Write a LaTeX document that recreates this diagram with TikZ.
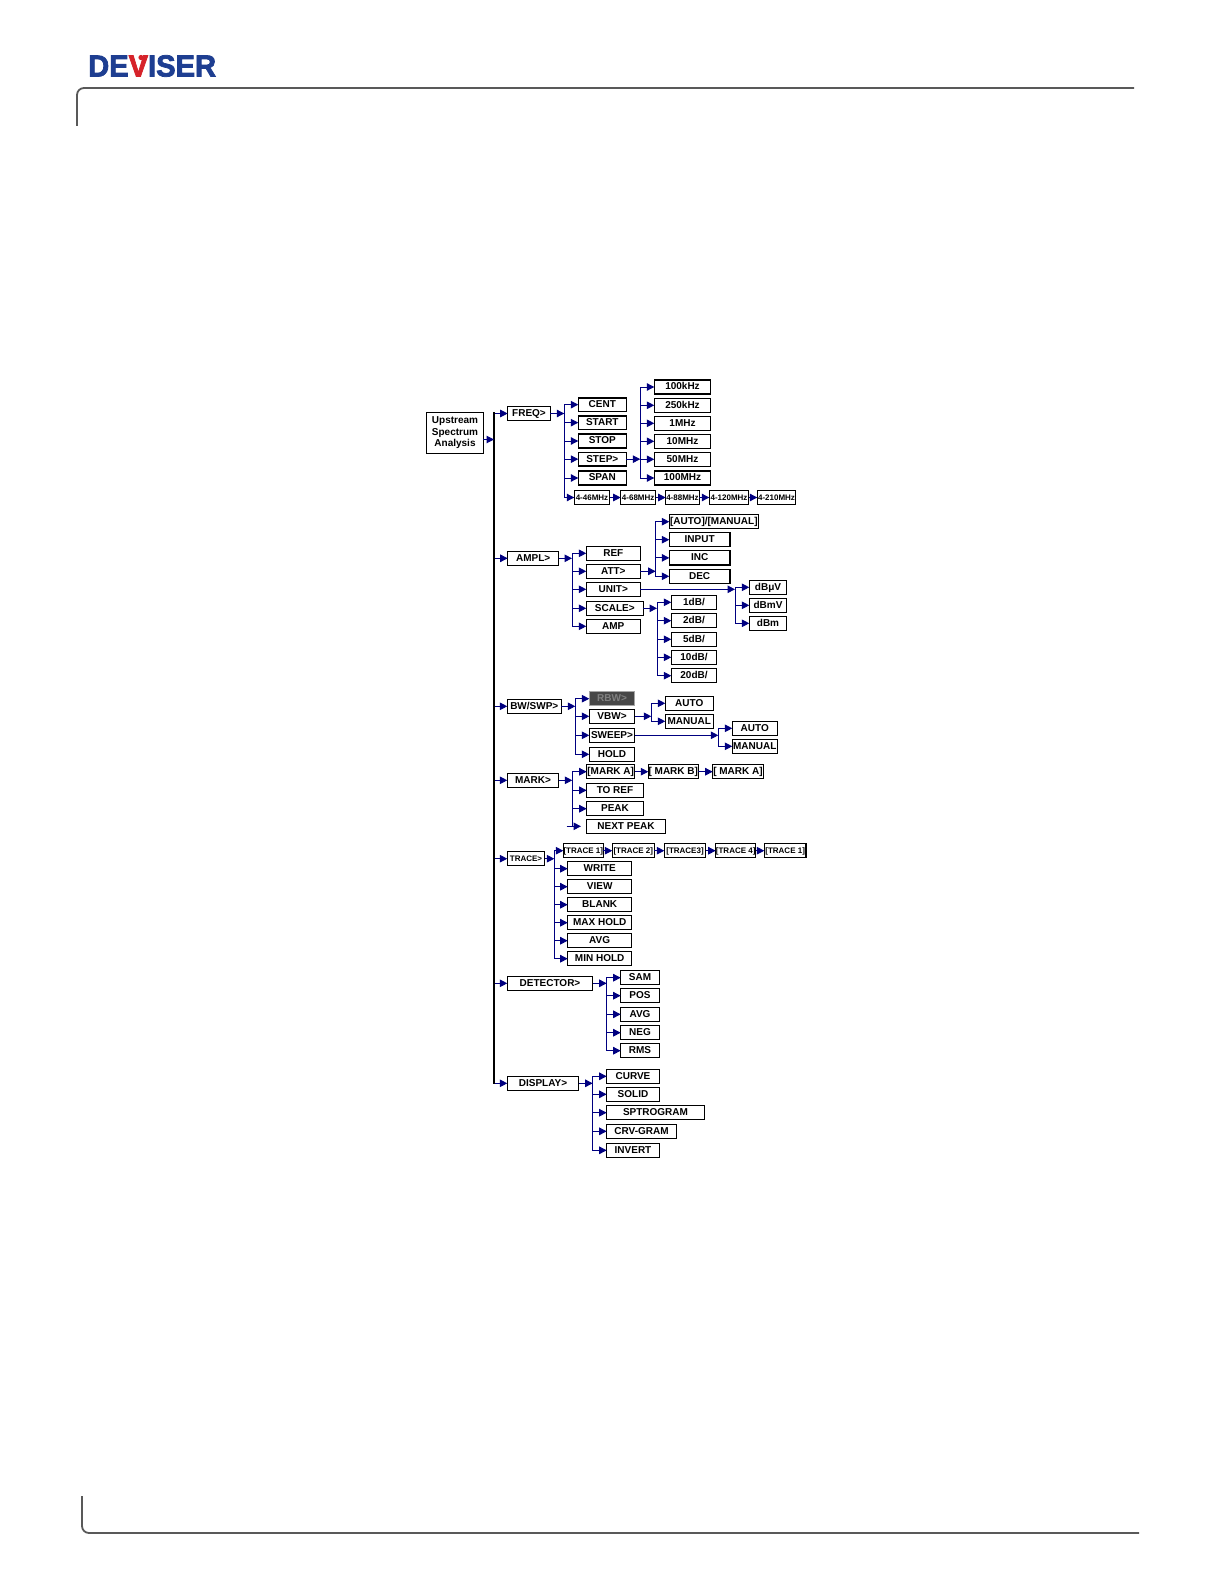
\documentclass[tikz,border=0pt]{standalone}
\usepackage{fontspec}
\setmainfont{Liberation Sans}
\newfontfamily\logofont[FakeBold=2.5]{Liberation Sans}
\usetikzlibrary{arrows.meta}
\definecolor{flownavy}{RGB}{0,0,128}
\definecolor{logoblue}{RGB}{30,62,145}
\definecolor{logored}{RGB}{214,35,42}
\tikzset{
  bx/.style={draw=black,line width=1.3pt,inner sep=0pt,outer sep=0pt,text height=5.8pt,text depth=0pt,
    font=\fontsize{10}{12}\selectfont\bfseries},
  small/.style={font=\fontsize{8}{10}\selectfont\bfseries},
  flow/.style={draw=flownavy,line width=1pt,-{Triangle[length=7.5pt,width=7.5pt]}},
  busline/.style={draw=flownavy,line width=1pt,line cap=rect},
  mainbus/.style={draw=black,line width=2.2pt,line cap=rect},
  frameline/.style={draw=black!65,line width=1.8pt,rounded corners=7pt},
}
\newcommand{\bxn}[7][]{\node[bx,#1,minimum width={(#4-#3)*1pt},minimum height={(#6-#5)*1pt}] (#2) at ({(#3+#4)/2},{(#5+#6)/2}) {#7};}
\newcommand{\fanout}[5]{%
  \draw[busline] (#3.west -| #2) -- (#4.west -| #2);
  \draw[flow] (#1.east) -- (#1.east -| #2);
  \foreach \kid in {#5}{\draw[flow] (\kid.west -| #2) -- (\kid.west);}
}
\begin{document}
\begin{tikzpicture}[x=1pt,y=-1pt]
\useasboundingbox (0,0) rectangle (1224,1584);
\fill[white] (0,0) rectangle (1224,1584);

% page frame
\draw[frameline] (77,126) -- (77,88) -- (1134,88);
\draw[frameline] (82,1496) -- (82,1533) -- (1139,1533);

% logo
\node[inner sep=0pt,anchor=west,font=\logofont\fontsize{30.5}{32}\selectfont\bfseries] (logo) at (88,66)
  {\scalebox{0.955}[1]{\textcolor{logoblue}{DE}\textcolor{logored}{V}\textcolor{logoblue}{ISER}}};
\fill[logored] (141,57.5) circle (2.6);

% root
\node[draw=black,line width=1.3pt,inner sep=0pt,outer sep=0pt,align=center,minimum width=56.6pt,minimum height=40.6pt,
  font=\fontsize{10}{11.5}\selectfont\bfseries] (root) at (455,433) {Upstream\\Spectrum\\Analysis};

% FREQ
\bxn{freq}{507.7}{550.3}{406.7}{420.3}{FREQ>}
\bxn{cent}{578.3}{626.3}{398}{411.3}{CENT}
\bxn{start}{578.3}{626.3}{416}{429.3}{START}
\bxn{stop}{578.3}{626.3}{434}{448}{STOP}
\bxn{stepb}{578.3}{626.3}{452.3}{466}{STEP>}
\bxn{span}{578.3}{626.3}{471}{485}{SPAN}
\bxn{ka}{654.3}{710.7}{380}{394}{100kHz}
\bxn{kb}{654.3}{710.7}{398.3}{412.3}{250kHz}
\bxn{kc}{654.3}{710.7}{416.3}{430.3}{1MHz}
\bxn{kd}{654.3}{710.7}{434.3}{448.3}{10MHz}
\bxn{ke}{654.3}{710.7}{452.3}{466.3}{50MHz}
\bxn{kf}{654.3}{710.7}{471}{485}{100MHz}
\bxn[small]{ra}{574.3}{609.7}{490.7}{504.3}{4-46MHz}
\bxn[small]{rb}{620.7}{655.7}{490.7}{504.3}{4-68MHz}
\bxn[small]{rc}{665.7}{699.3}{490.7}{504.3}{4-88MHz}
\bxn[small]{rd}{709.3}{748.7}{490.7}{504.3}{4-120MHz}
\bxn[small]{re}{757.3}{795.7}{490.7}{504.3}{4-210MHz}

% AMPL
\bxn{ampl}{507.7}{558.7}{551.3}{565.3}{AMPL>}
\bxn{ref}{586.3}{640.3}{546.3}{560.3}{REF}
\bxn{att}{586.3}{640.3}{564.3}{578.3}{ATT>}
\bxn{unit}{586.3}{640.3}{582.3}{596.3}{UNIT>}
\bxn{scale}{586.3}{643.3}{601.3}{615.3}{SCALE>}
\bxn{amp}{586.3}{640.3}{619.3}{633.3}{AMP}
\bxn{aut}{669.3}{758.3}{514.7}{528.7}{[AUTO]/[MANUAL]}
\bxn{inp}{669.3}{730}{532.7}{546.7}{INPUT}
\bxn{inc}{669.3}{730}{550.7}{565}{INC}
\bxn{dec}{669.3}{730}{569.3}{583.3}{DEC}
\bxn{ua}{749.3}{786.7}{580.3}{594.3}{dBμV}
\bxn{ub}{749.3}{786.7}{598.3}{612.3}{dBmV}
\bxn{uc}{749.3}{786.7}{616.3}{630.3}{dBm}
\bxn{sa}{671.3}{716.7}{595.3}{609.3}{1dB/}
\bxn{sb}{671.3}{716.7}{613.7}{627.7}{2dB/}
\bxn{sc}{671.3}{716.7}{632.3}{646.3}{5dB/}
\bxn{sd}{671.3}{716.7}{650.3}{664.3}{10dB/}
\bxn{se}{671.3}{716.7}{668.7}{682.7}{20dB/}

% BW/SWP
\bxn{bw}{507.3}{561.3}{699.3}{713.3}{BW/SWP>}
\bxn[draw=black!35,fill=black!72,text=black!50]{rbw}{589.3}{634.7}{691.7}{705.7}{RBW>}
\bxn{vbw}{589.3}{634.7}{709.3}{723.3}{VBW>}
\bxn{sweep}{589.3}{634.7}{728.3}{742.3}{SWEEP>}
\bxn{hold}{589.3}{634.7}{747.3}{761.3}{HOLD}
\bxn{va}{665.3}{713.3}{696.3}{710.3}{AUTO}
\bxn{vb}{665.3}{713.3}{714.3}{728.3}{MANUAL}
\bxn{wa}{732.3}{777.3}{721.3}{735.3}{AUTO}
\bxn{wb}{732.3}{777.3}{739.3}{753.3}{MANUAL}

% MARK
\bxn{mark}{507.3}{558.7}{773.3}{787.3}{MARK>}
\bxn{ma}{586.7}{634.7}{764.7}{778.7}{[MARK A]}
\bxn{mb}{648.3}{698.3}{764.7}{778.7}{[ MARK B]}
\bxn{mc}{712.7}{763.3}{764.7}{778.7}{[ MARK A]}
\bxn{toref}{586.7}{643.3}{783.3}{797.3}{TO REF}
\bxn{peak}{586.7}{643.3}{801.7}{815.7}{PEAK}
\bxn{next}{586.7}{665.3}{819.3}{833.3}{NEXT PEAK}

% TRACE
\bxn[small]{trace}{507.3}{544.7}{851.7}{865.7}{TRACE>}
\bxn[small]{ta}{563.3}{603.3}{843.7}{857.7}{[TRACE 1]}
\bxn[small]{tb}{612.3}{654.3}{843.7}{857.7}{[TRACE 2]}
\bxn[small]{tc}{664.3}{705.7}{843.7}{857.7}{[TRACE3]}
\bxn[small]{td}{715.7}{755.7}{843.7}{857.7}{[TRACE 4]}
\bxn[small]{te}{764.3}{806}{843.7}{857.7}{[TRACE 1]}
\bxn{write}{567.7}{631.7}{861.7}{875.7}{WRITE}
\bxn{view}{567.7}{631.7}{879.7}{893.7}{VIEW}
\bxn{blank}{567.7}{631.7}{897.7}{911.7}{BLANK}
\bxn{maxh}{567.7}{631.7}{915.7}{929.7}{MAX HOLD}
\bxn{avgt}{567.7}{631.7}{933.7}{947.7}{AVG}
\bxn{minh}{567.7}{631.7}{951.7}{965.7}{MIN HOLD}

% DETECTOR
\bxn{det}{507.3}{592.7}{976.3}{990.3}{DETECTOR>}
\bxn{sam}{620.7}{659.3}{970.7}{984.7}{SAM}
\bxn{pos}{620.7}{659.3}{988.7}{1002.7}{POS}
\bxn{avgd}{620.7}{659.3}{1007.3}{1021.3}{AVG}
\bxn{neg}{620.7}{659.3}{1025.7}{1039.7}{NEG}
\bxn{rms}{620.7}{659.3}{1043.7}{1057.7}{RMS}

% DISPLAY
\bxn{disp}{507.3}{578.7}{1076.3}{1090.3}{DISPLAY>}
\bxn{curve}{606.7}{659.3}{1069.3}{1083.3}{CURVE}
\bxn{solid}{606.7}{659.3}{1087.3}{1101.3}{SOLID}
\bxn{sptr}{606.7}{704.3}{1105.7}{1119.7}{SPTROGRAM}
\bxn{crv}{606.7}{676.3}{1124.3}{1138.3}{CRV-GRAM}
\bxn{inv}{606.7}{659.3}{1143.3}{1157.3}{INVERT}

% bus positions
\coordinate (bmain) at (494,0);
\coordinate (bfreq) at (564.3,0);
\coordinate (bstep) at (640.3,0);
\coordinate (bampl) at (572,0);
\coordinate (batt) at (655.7,0);
\coordinate (bunit) at (735,0);
\coordinate (bscale) at (657,0);
\coordinate (bbw) at (575.3,0);
\coordinate (bvbw) at (651.3,0);
\coordinate (bsweep) at (718.3,0);
\coordinate (bmark) at (572.3,0);
\coordinate (btrace) at (554.3,0);
\coordinate (bdet) at (606.7,0);
\coordinate (bdisp) at (592.7,0);
\coordinate (rootjoin) at (494,439.5);
\coordinate (nexttail) at (566.7,826.3);
\coordinate (nexthead) at (581,826.3);

% main trunk
\draw[flow] (freq.west -| bmain) -- (freq.west);
\draw[flow] (ampl.west -| bmain) -- (ampl.west);
\draw[flow] (bw.west -| bmain) -- (bw.west);
\draw[flow] (mark.west -| bmain) -- (mark.west);
\draw[flow] (trace.west -| bmain) -- (trace.west);
\draw[flow] (det.west -| bmain) -- (det.west);
\draw[flow] (disp.west -| bmain) -- (disp.west);
\draw[mainbus] (freq.west -| bmain) -- (disp.west -| bmain);
\draw[flow] (rootjoin -| root.east) -- (rootjoin);

% fans
\fanout{freq}{bfreq}{cent}{ra}{cent,start,stop,stepb,span,ra}
\fanout{stepb}{bstep}{ka}{kf}{ka,kb,kc,kd,ke,kf}
\fanout{ampl}{bampl}{ref}{amp}{ref,att,unit,scale,amp}
\fanout{att}{batt}{aut}{dec}{aut,inp,inc,dec}
\fanout{unit}{bunit}{ua}{uc}{ua,ub,uc}
\fanout{scale}{bscale}{sa}{se}{sa,sb,sc,sd,se}
\fanout{bw}{bbw}{rbw}{hold}{rbw,vbw,sweep,hold}
\fanout{vbw}{bvbw}{va}{vb}{va,vb}
\fanout{sweep}{bsweep}{wa}{wb}{wa,wb}
\fanout{mark}{bmark}{ma}{nexttail}{ma,toref,peak}
\fanout{trace}{btrace}{ta}{minh}{ta,write,view,blank,maxh,avgt,minh}
\fanout{det}{bdet}{sam}{rms}{sam,pos,avgd,neg,rms}
\fanout{disp}{bdisp}{curve}{inv}{curve,solid,sptr,crv,inv}
\draw[flow] (nexttail) -- (nexthead);

% chains
\draw[flow] (ra) -- (rb);
\draw[flow] (rb) -- (rc);
\draw[flow] (rc) -- (rd);
\draw[flow] (rd) -- (re);
\draw[flow] (ma) -- (mb);
\draw[flow] (mb) -- (mc);
\draw[flow] (ta) -- (tb);
\draw[flow] (tb) -- (tc);
\draw[flow] (tc) -- (td);
\draw[flow] (td) -- (te);
\end{tikzpicture}
\end{document}
